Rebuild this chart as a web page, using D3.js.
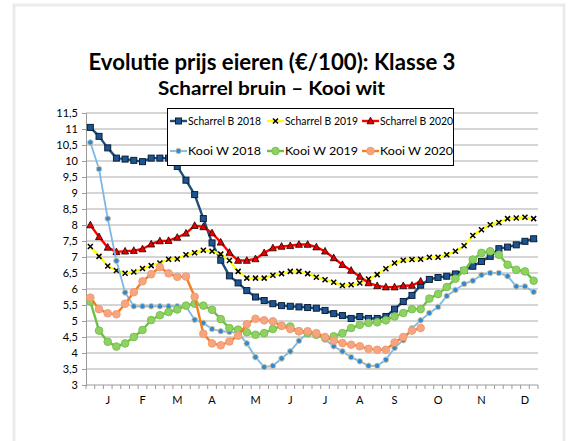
<!DOCTYPE html>
<html>
<head>
<meta charset="utf-8">
<script src="https://cdn.jsdelivr.net/npm/d3@7"></script>
<style>
  body { margin: 0; background: #fff; }
  svg text { font-family: Lato, "Liberation Sans", Arial, sans-serif; }
</style>
</head>
<body>
<div id="chart"></div>
<script>
// Evolutie prijs eieren — weekly prices, 52 weeks

const weekLabels = ['', '', 'J', '', '', '', 'F', '', '', '', 'M', '', '', '', 'A', '', '', '', '', 'M', '', '', '', 'J', '', '', '', 'J', '', '', '', 'A', '', '', '', 'S', '', '', '', '', 'O', '', '', '', '', 'N', '', '', '', '', 'D', ''];
const yTicks = [3, 3.5, 4, 4.5, 5, 5.5, 6, 6.5, 7, 7.5, 8, 8.5, 9, 9.5, 10, 10.5, 11, 11.5];

const scharrelB2018 = [11.05, 10.77, 10.41, 10.09, 10.06, 10.02, 9.98, 10.09, 10.09, 10.09, 9.83, 9.4, 8.95, 8.2, 7.44, 6.9, 6.41, 6.19, 5.95, 5.75, 5.64, 5.54, 5.48, 5.46, 5.44, 5.42, 5.4, 5.33, 5.23, 5.17, 5.08, 5.14, 5.08, 5.08, 5.14, 5.37, 5.61, 5.8, 6.12, 6.3, 6.36, 6.4, 6.47, 6.58, 6.71, 6.86, 7.02, 7.26, 7.31, 7.38, 7.49, 7.57];
const scharrelB2019 = [7.33, 7.02, 6.72, 6.58, 6.49, 6.53, 6.64, 6.73, 6.81, 6.93, 6.94, 7.07, 7.13, 7.21, 7.18, 7.09, 6.89, 6.55, 6.34, 6.34, 6.34, 6.43, 6.48, 6.55, 6.55, 6.48, 6.37, 6.29, 6.21, 6.11, 6.13, 6.19, 6.31, 6.45, 6.63, 6.81, 6.9, 6.92, 6.93, 6.99, 6.99, 7.07, 7.18, 7.35, 7.67, 7.85, 8.01, 8.08, 8.2, 8.22, 8.24, 8.2];
const scharrelB2020 = [8.0, 7.63, 7.3, 7.16, 7.18, 7.2, 7.25, 7.4, 7.5, 7.51, 7.61, 7.74, 7.98, 7.94, 7.75, 7.46, 7.14, 6.89, 6.89, 6.94, 7.13, 7.28, 7.33, 7.35, 7.39, 7.39, 7.31, 7.18, 6.97, 6.76, 6.58, 6.39, 6.19, 6.1, 6.06, 6.06, 6.1, 6.11, 6.24];
const kooiW2018 = [10.58, 9.75, 8.2, 6.88, 5.89, 5.46, 5.46, 5.46, 5.46, 5.46, 5.46, 5.46, 5.04, 4.94, 4.75, 4.68, 4.66, 4.63, 4.3, 3.87, 3.56, 3.6, 3.83, 4.05, 4.38, 4.62, 4.62, 4.42, 4.21, 4.05, 3.87, 3.74, 3.6, 3.6, 3.79, 4.16, 4.4, 4.77, 5.02, 5.25, 5.44, 5.78, 5.97, 6.16, 6.26, 6.44, 6.5, 6.5, 6.4, 6.08, 6.08, 5.91];
const kooiW2019 = [5.61, 4.7, 4.35, 4.2, 4.3, 4.5, 4.72, 5.03, 5.18, 5.28, 5.36, 5.48, 5.54, 5.48, 5.35, 5.06, 4.78, 4.73, 4.65, 4.57, 4.62, 4.75, 4.85, 4.83, 4.68, 4.62, 4.57, 4.47, 4.52, 4.62, 4.78, 4.88, 4.94, 4.96, 5.02, 5.14, 5.25, 5.37, 5.37, 5.7, 5.84, 6.06, 6.32, 6.58, 6.92, 7.13, 7.18, 7.07, 6.76, 6.6, 6.55, 6.26];
const kooiW2020 = [5.73, 5.37, 5.24, 5.21, 5.54, 5.9, 6.24, 6.46, 6.68, 6.49, 6.38, 6.39, 5.76, 4.6, 4.3, 4.24, 4.36, 4.54, 4.9, 5.07, 5.02, 4.99, 4.85, 4.75, 4.68, 4.68, 4.62, 4.5, 4.39, 4.31, 4.26, 4.21, 4.13, 4.1, 4.1, 4.33, 4.5, 4.7, 4.78];

const seriesNames = ['Scharrel B 2018', 'Scharrel B 2019', 'Scharrel B 2020', 'Kooi W 2018', 'Kooi W 2019', 'Kooi W 2020'];
const seriesValues = [scharrelB2018, scharrelB2019, scharrelB2020, kooiW2018, kooiW2019, kooiW2020];

// styles per series
const styles = [
  { line: '#1f4e79', width: 2.4, marker: 'square', fill: '#1d5592', stroke: '#0b1f36', size: 6 },
  { line: '#ffff00', width: 2.4, marker: 'x', fill: '#000', stroke: '#000', size: 5 },
  { line: '#ff0000', width: 2.4, marker: 'triangle', fill: '#e80000', stroke: '#1a0000', size: 7 },
  { line: '#7db7e6', width: 1.8, marker: 'circle', fill: '#2f8ad6', stroke: '#dcc8a0', size: 2.8 },
  { line: '#6cc23e', width: 2.4, marker: 'circle', fill: '#8fd162', stroke: '#78c24e', size: 3.8 },
  { line: '#f77d1e', width: 2.4, marker: 'circle', fill: '#f6a57f', stroke: '#f29a75', size: 3.8 },
];

const W = 568, H = 441;
const svg = d3.select('#chart').append('svg').attr('width', W).attr('height', H);

// outer frame
svg.append('rect').attr('x', 14).attr('y', 5).attr('width', 550).attr('height', 460)
  .attr('fill', '#fff').attr('stroke', '#ebebeb').attr('stroke-width', 3);

const x = d3.scaleBand().domain(d3.range(weekLabels.length)).range([86, 538]);
const y = d3.scaleLinear().domain([3, 11.5]).range([385, 113]);
const cx = i => x(i) + x.bandwidth() / 2;

// titles
svg.append('text').attr('x', 272).attr('y', 70).attr('text-anchor', 'middle')
  .attr('font-size', 22).attr('font-weight', 'bold').attr('textLength', 367).attr('lengthAdjust', 'spacingAndGlyphs')
  .text('Evolutie prijs eieren (€/100): Klasse 3');
svg.append('text').attr('x', 271.5).attr('y', 95).attr('text-anchor', 'middle')
  .attr('font-size', 18).attr('font-weight', 'bold').attr('textLength', 227).attr('lengthAdjust', 'spacingAndGlyphs')
  .text('Scharrel bruin – Kooi wit');

// gridlines
svg.append('g').selectAll('line').data(yTicks.slice(1)).join('line')
  .attr('x1', 86).attr('x2', 538).attr('y1', d => y(d)).attr('y2', d => y(d))
  .attr('stroke', '#ababab').attr('stroke-width', 1);

// y axis
const yAxis = svg.append('g').attr('transform', 'translate(86,0)')
  .call(d3.axisLeft(y).tickValues(yTicks).tickSize(4).tickPadding(4)
    .tickFormat(d => String(d).replace('.', ',')));
yAxis.select('.domain').attr('stroke', '#9a9a9a');
yAxis.selectAll('.tick line').attr('stroke', '#9a9a9a');
yAxis.selectAll('text').attr('font-size', 11).attr('fill', '#000').attr('font-family', 'Lato, "Liberation Sans", Arial, sans-serif');

// x axis: ticks between weeks, labels at month weeks
const xg = svg.append('g');
xg.append('line').attr('x1', 86).attr('x2', 538).attr('y1', y(3)).attr('y2', y(3)).attr('stroke', '#9a9a9a');
xg.selectAll('line.tk').data(d3.range(weekLabels.length + 1)).join('line').attr('class', 'tk')
  .attr('x1', i => i < weekLabels.length ? x(i) : x.range()[1]).attr('x2', i => i < weekLabels.length ? x(i) : x.range()[1])
  .attr('y1', y(3)).attr('y2', y(3) + 4).attr('stroke', '#9a9a9a');
xg.selectAll('text').data(weekLabels.map((l, i) => ({ l, i })).filter(d => d.l)).join('text')
  .attr('x', d => cx(d.i)).attr('y', 404).attr('text-anchor', 'middle')
  .attr('font-size', 11).text(d => d.l);

// markers
function drawMarker(g, st, px, py) {
  if (st.marker === 'square') {
    g.append('rect').attr('x', px - st.size / 2).attr('y', py - st.size / 2)
      .attr('width', st.size).attr('height', st.size)
      .attr('fill', st.fill).attr('stroke', st.stroke).attr('stroke-width', 1);
  } else if (st.marker === 'triangle') {
    const s = st.size;
    g.append('path').attr('d', `M${px},${py - s * 0.55}L${px + s / 2},${py + s * 0.4}L${px - s / 2},${py + s * 0.4}Z`)
      .attr('fill', st.fill).attr('stroke', st.stroke).attr('stroke-width', 0.8);
  } else if (st.marker === 'x') {
    const s = st.size / 2;
    g.append('path').attr('d', `M${px - s},${py - s}L${px + s},${py + s}M${px - s},${py + s}L${px + s},${py - s}`)
      .attr('stroke', '#000').attr('stroke-width', 1.5);
  } else {
    g.append('circle').attr('cx', px).attr('cy', py).attr('r', st.size)
      .attr('fill', st.fill).attr('stroke', st.stroke).attr('stroke-width', 1);
  }
}

const line = d3.line().x((d, i) => cx(i)).y(d => y(d));
seriesValues.forEach((vals, k) => {
  const st = styles[k];
  const g = svg.append('g');
  g.append('path').datum(vals).attr('d', line)
    .attr('fill', 'none').attr('stroke', st.line).attr('stroke-width', st.width).attr('stroke-linejoin', 'round');
  vals.forEach((v, i) => drawMarker(g, st, cx(i), y(v)));
});

// legend
const lg = svg.append('g');
lg.append('rect').attr('x', 167.5).attr('y', 108.5).attr('width', 286).attr('height', 57)
  .attr('fill', '#fff').attr('stroke', '#000').attr('stroke-width', 1);
const legX = [170, 267, 362];
const legY = [121, 151];
seriesNames.forEach((name, k) => {
  const st = styles[k];
  const lx = legX[k % 3], ly = legY[Math.floor(k / 3)];
  lg.append('line').attr('x1', lx).attr('x2', lx + 17).attr('y1', ly).attr('y2', ly)
    .attr('stroke', st.line).attr('stroke-width', st.width);
  drawMarker(lg, st, lx + 8.5, ly);
  lg.append('text').attr('x', lx + 18).attr('y', ly + 4).attr('font-size', 11)
    .attr('textLength', 73).attr('lengthAdjust', 'spacingAndGlyphs')
    .text(name);
});
</script>
</body>
</html>
